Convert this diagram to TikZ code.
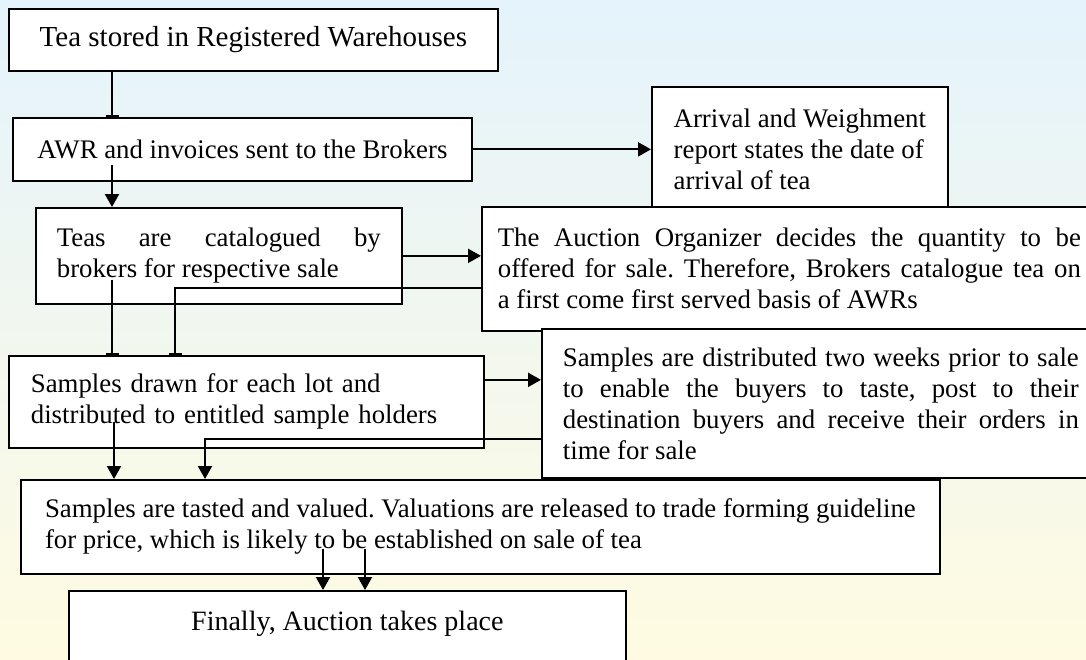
\documentclass[tikz,border=0pt]{standalone}
\usepackage{fontspec}
\setmainfont{Liberation Serif}
\usetikzlibrary{arrows.meta}
\frenchspacing
\hyphenpenalty=10000
\exhyphenpenalty=10000
\tolerance=10000
\definecolor{washtop}{RGB}{228,243,252}
\definecolor{washmid}{RGB}{208,214,246}
\definecolor{washlow}{RGB}{255,251,226}

\begin{document}
\begin{tikzpicture}[x=1pt, y=-1pt,
  stage/.style={draw, line width=1.7pt, fill=white, anchor=north west,
    inner ysep=0pt, font=\fontsize{26.8}{31}\selectfont},
  link/.style={line width=2.1pt},
  tip/.style={-{Triangle[length=13pt,width=14pt]}},
  halt/.style={-{Bar[width=13pt,line width=2pt]}}]

% background wash
\useasboundingbox (0,0) rectangle (1086,659);
\shade[top color=washtop, middle color=washmid, bottom color=washlow] (0,0) rectangle (1086,659);

% warehouse and broker boxes — top left
\node[stage, font=\fontsize{29}{33}\selectfont, minimum width=489pt, minimum height=62pt] (ware) at (8,8) {Tea stored in Registered Warehouses};
\node[stage, minimum width=459pt, minimum height=63pt] (awr) at (12,117) {AWR and invoices sent to the Brokers};

% side notes — right, each one half hidden under the next
\node[stage, align=left, minimum width=296pt, minimum height=124pt] (arrival) at (651,86)
  {Arrival and Weighment\\ report states the date of\\ arrival of tea};
\node[stage, text width=324pt, inner xsep=21pt, align=justify, minimum height=96pt] (teas) at (35,207)
  {Teas are catalogued by\linebreak brokers for respective sale};
\node[stage, text width=583pt, inner xsep=16pt, align=justify, minimum height=124pt] (organizer) at (481,206)
  {The Auction Organizer decides the quantity to be\linebreak offered for sale. Therefore, Brokers catalogue tea on\linebreak a first come first served basis of AWRs};
\node[stage, text width=431pt, inner xsep=22pt, align=left, minimum height=92pt] (drawn) at (8,355)
  {Samples drawn for each lot and\\ distributed to entitled sample holders};
\node[stage, text width=516pt, inner xsep=21pt, align=justify, minimum height=149pt] (distributed) at (541,328)
  {Samples are distributed two weeks prior to sale\linebreak to enable the buyers to taste, post to their\linebreak destination buyers and receive their orders in\linebreak time for sale};

% valuation and auction — bottom
\node[stage, align=left, minimum width=919pt, minimum height=94pt] (tasted) at (20,479)
  {Samples are tasted and valued. Valuations are released to trade forming guideline\\ for price, which is likely to be established on sale of tea};
\node[stage, font=\fontsize{28}{32}\selectfont, minimum width=557pt, inner ysep=20pt, text depth=60pt] (auction) at (68,590) {Finally, Auction takes place};

% connectors
\coordinate (drawnout) at ([yshift=22pt]drawn.east);
\draw[link, halt] ([xshift=104pt]ware.south west) -- ([xshift=100pt]awr.north west);
\draw[link, tip] (awr.east) -- (awr.east -| arrival.west);
\draw[link, tip] ([xshift=100pt, yshift=17pt]awr.south west) -- ([xshift=77pt]teas.north west);
\draw[link, tip] (teas.east) -- (teas.east -| organizer.west);
\draw[link, halt] ([yshift=-19pt]organizer.west) -| ([xshift=167pt]drawn.north west);
\draw[link, halt] ([xshift=77pt, yshift=25pt]teas.south west) -- ([xshift=104pt]drawn.north west);
\draw[link, tip] (drawnout) -- (drawnout -| distributed.west);
\draw[link, tip] ([xshift=106pt, yshift=27pt]drawn.south west) -- ([xshift=94pt]tasted.north west);
\draw[link, tip] ([yshift=-36pt]distributed.west) -| ([xshift=185pt]tasted.north west);
\draw[link, tip] ([xshift=303pt, yshift=26pt]tasted.south west) -- ([xshift=255pt]auction.north west);
\draw[link, tip] ([xshift=345pt, yshift=26pt]tasted.south west) -- ([xshift=297pt]auction.north west);

\end{tikzpicture}
\end{document}
